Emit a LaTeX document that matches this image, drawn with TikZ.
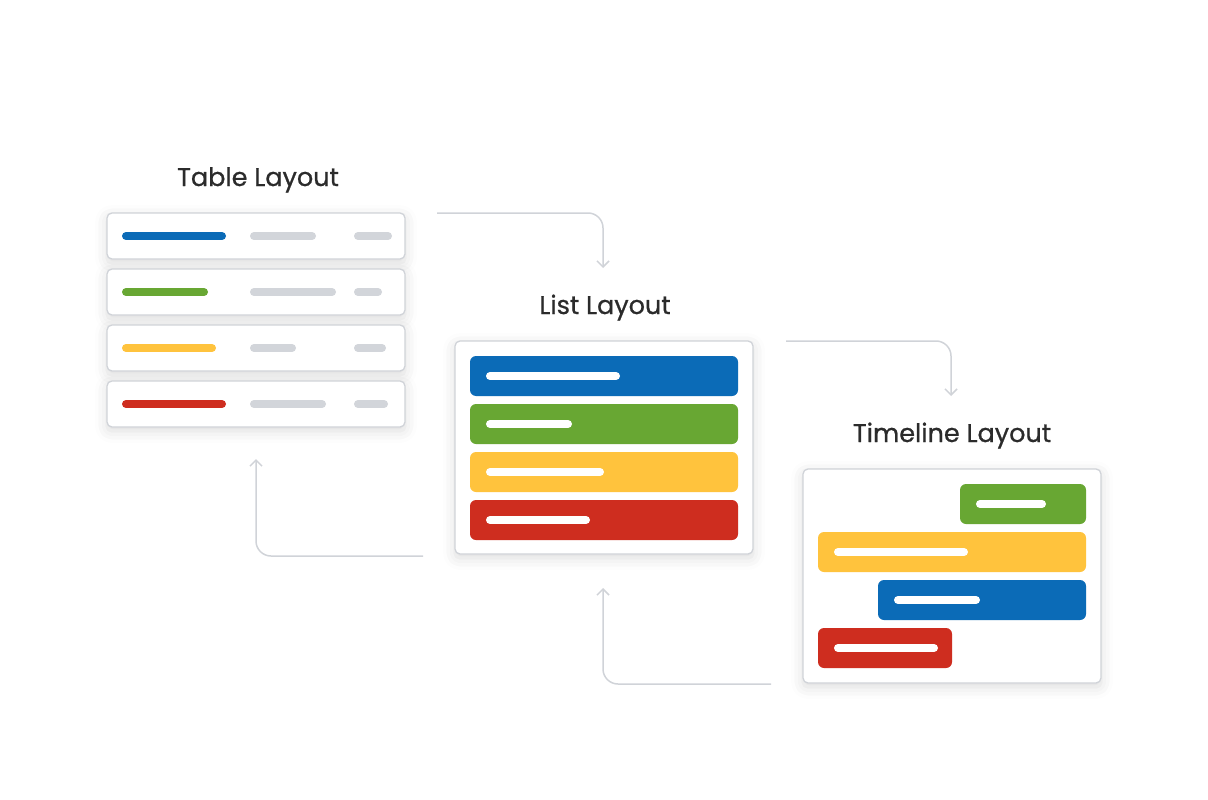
\documentclass[tikz,border=0pt]{standalone}
\usepackage{fontspec}
\setmainfont{Poppins}
\usetikzlibrary{arrows.meta,shadows.blur}

\definecolor{tblue}{HTML}{0B6BB7}
\definecolor{tgreen}{HTML}{68A733}
\definecolor{tyellow}{HTML}{FFC33D}
\definecolor{tred}{HTML}{CE2D1F}
\definecolor{tgray}{HTML}{D2D5DA}
\definecolor{tline}{HTML}{D0D3D8}
\definecolor{ttext}{HTML}{2B2B2B}

\begin{document}
\begin{tikzpicture}[x=1pt,y=-1pt,
        every node/.append style={text=ttext},
        panel/.style={draw=tline,line width=1.3pt,fill=white,rounded corners=5pt,inner sep=0pt,
            blur shadow={shadow xshift=0pt,shadow yshift=-4pt,shadow blur radius=12pt,shadow opacity=14}},
        heading/.style={anchor=base,font=\fontsize{25.5}{30}\selectfont\addfontfeatures{FakeBold=0.8}},
        tick/.style={line width=8pt,line cap=round},
        block/.style={rounded corners=6pt},
        flow/.style={draw=tline,line width=1.5pt,rounded corners=15pt,
            -{Straight Barb[length=6pt,width=12pt]}}
    ]
    \useasboundingbox (0,0) rectangle (1208,800);

    % table layout
    \node[heading] (tabletitle) at (258,186) {Table Layout};
    \foreach \c/\w/\g/\h [count=\i] in {tblue/226/316/392,tgreen/208/336/382,
                                        tyellow/216/296/386,tred/226/326/388} {
        \node[panel,minimum width=298pt,minimum height=46pt] (row\i) at (256,180+56*\i) {};
        \draw[tick,\c] (126,180+56*\i) -- (\w-4,180+56*\i);
        \draw[tick,tgray] (254,180+56*\i) -- (\g-4,180+56*\i);
        \draw[tick,tgray] (358,180+56*\i) -- (\h-4,180+56*\i);
    }

    % list layout
    \node[heading] (listtitle) at (605,314) {List Layout};
    \node[panel,minimum width=298pt,minimum height=213pt] (list) at (604,447.5) {};
    \foreach \c/\w [count=\i] in {tblue/620,tgreen/572,tyellow/604,tred/590} {
        \fill[block,\c] (470,308+48*\i) rectangle (738,348+48*\i);
        \draw[tick,white] (490,328+48*\i) -- (\w-4,328+48*\i);
    }

    % timeline layout
    \node[heading] (timetitle) at (952,442) {Timeline Layout};
    \node[panel,minimum width=298pt,minimum height=214pt] (timeline) at (952,576) {};
    \foreach \c/\a/\b/\p/\q [count=\i] in {tgreen/960/1086/976/1046,tyellow/818/1086/834/968,
                                          tblue/878/1086/894/980,tred/818/952/834/938} {
        \fill[block,\c] (\a,436+48*\i) rectangle (\b,476+48*\i);
        \draw[tick,white] (\p+4,456+48*\i) -- (\q-4,456+48*\i);
    }

    % connectors
    \coordinate (t2l) at (437,213);
    \coordinate (l2t) at (786,341);
    \coordinate (l2b) at (423,556);
    \coordinate (t2b) at (771,684);
    \coordinate (listin) at (603,268);
    \coordinate (timein) at (951,396);
    \coordinate (tablein) at (256,459);
    \coordinate (listback) at (603,588);
    \draw[flow] (t2l) -| (listin);
    \draw[flow] (l2t) -| (timein);
    \draw[flow] (l2b) -| (tablein);
    \draw[flow] (t2b) -| (listback);
\end{tikzpicture}
\end{document}
